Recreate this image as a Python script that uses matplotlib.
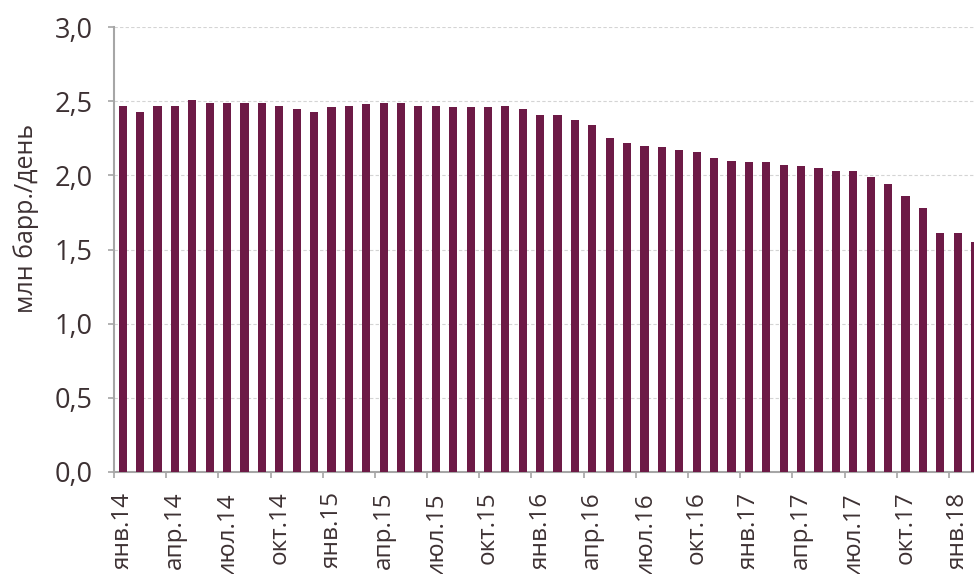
#!/usr/bin/env python3
"""Monthly production bar chart, Jan 2014 - Feb 2018."""

import numpy as np
import matplotlib
matplotlib.use("Agg")
import matplotlib.pyplot as plt
from matplotlib.ticker import FuncFormatter

plt.rcParams["font.family"] = ["Open Sans", "DejaVu Sans"]

MONTHS = ["янв.", "фев.", "мар.", "апр.", "май", "июн.",
          "июл.", "авг.", "сен.", "окт.", "ноя.", "дек."]
YEARS = [14, 15, 16, 17, 18]

# млн барр./день, monthly from янв.14 to фев.18
values = [
    2.47, 2.43, 2.47, 2.47, 2.51, 2.49, 2.49, 2.49, 2.49, 2.47, 2.45, 2.43,
    2.46, 2.47, 2.48, 2.49, 2.49, 2.47, 2.47, 2.46, 2.46, 2.46, 2.47, 2.45,
    2.41, 2.41, 2.37, 2.34, 2.25, 2.22, 2.20, 2.19, 2.17, 2.16, 2.12, 2.10,
    2.09, 2.09, 2.07, 2.06, 2.05, 2.03, 2.03, 1.99, 1.94, 1.86, 1.78, 1.61,
    1.61, 1.55,
]
labels = [f"{MONTHS[i % 12]}{YEARS[i // 12]}" for i in range(len(values))]

TEXT = "#3d3133"
BAR = "#6d1a46"
SPINE = "#a6a6a6"


def main():
    fig = plt.figure(figsize=(9.74, 5.74), dpi=100)
    ax = fig.add_axes([114 / 974, 102 / 574, 860 / 974, 445 / 574])

    pos = np.arange(len(values))
    ax.bar(pos, values, width=0.47, color=BAR, zorder=3)

    ax.set_xlim(-0.5, 48.94)
    ax.set_ylim(0, 3.0)
    ax.set_yticks(np.arange(0, 3.01, 0.5))
    ax.yaxis.set_major_formatter(FuncFormatter(lambda v, _: f"{v:.1f}".replace(".", ",")))

    # labels centred under every third bar, tick marks at category edges
    ax.set_xticks(pos[::3])
    ax.set_xticklabels(labels[::3], rotation=90, va="top", ha="center")
    ax.set_xticks(pos[::3] - 0.5, minor=True)
    ax.tick_params(axis="x", which="major", length=0, pad=14, labelsize=17.5, colors=TEXT)
    ax.tick_params(axis="x", which="minor", length=4, width=1.2, color=SPINE)
    ax.tick_params(axis="y", length=4.5, width=1.2, color=SPINE, pad=11,
                   labelsize=19.5, labelcolor=TEXT)

    ax.set_ylabel("млн барр./день", fontsize=18, color=TEXT)
    ax.yaxis.set_label_coords(-0.087, 0.569)

    ax.grid(axis="y", linestyle=(0, (3, 2)), color="#d4d4d4", linewidth=0.8, zorder=0)
    for side in ["top", "right"]:
        ax.spines[side].set_visible(False)
    for side in ["left", "bottom"]:
        ax.spines[side].set_color(SPINE)
        ax.spines[side].set_linewidth(1.5)

    fig.savefig("out.png", dpi=100, facecolor="white")


if __name__ == "__main__":
    main()
